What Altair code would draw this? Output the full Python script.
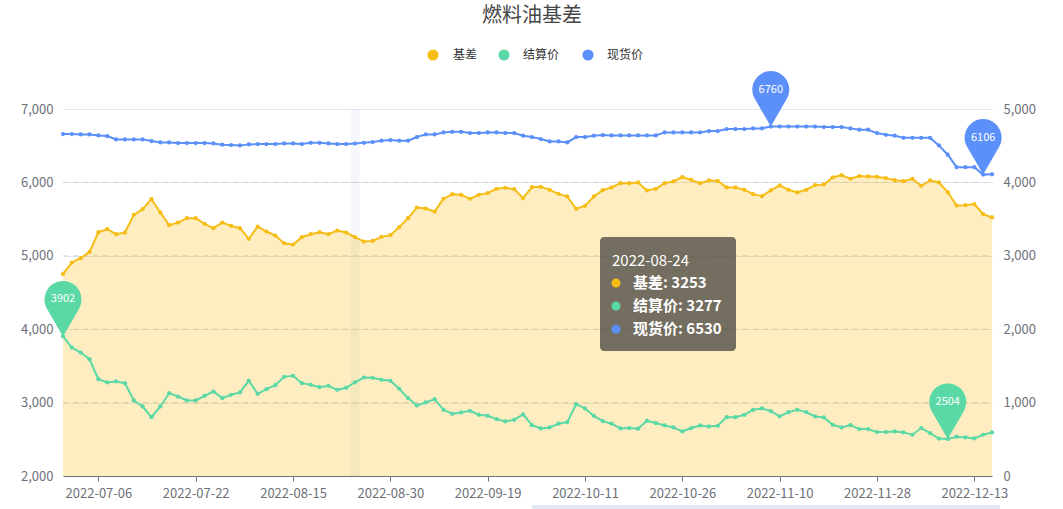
import altair as alt
import pandas as pd

# ---------------- data ----------------
dates = [
    "2022-06-30", "2022-07-01", "2022-07-04", "2022-07-05", "2022-07-06", "2022-07-07", "2022-07-08",
    "2022-07-11", "2022-07-12", "2022-07-14", "2022-07-15", "2022-07-18", "2022-07-19", "2022-07-20",
    "2022-07-21", "2022-07-22", "2022-07-25", "2022-07-27", "2022-07-29", "2022-08-01", "2022-08-03",
    "2022-08-04", "2022-08-05", "2022-08-08", "2022-08-10", "2022-08-12", "2022-08-15", "2022-08-16",
    "2022-08-17", "2022-08-18", "2022-08-19", "2022-08-22", "2022-08-23", "2022-08-24", "2022-08-25",
    "2022-08-26", "2022-08-29", "2022-08-30", "2022-08-31", "2022-09-01", "2022-09-05", "2022-09-06",
    "2022-09-07", "2022-09-08", "2022-09-09", "2022-09-13", "2022-09-15", "2022-09-16", "2022-09-19",
    "2022-09-20", "2022-09-21", "2022-09-22", "2022-09-23", "2022-09-26", "2022-09-27", "2022-09-28",
    "2022-09-29", "2022-09-30", "2022-10-10", "2022-10-11", "2022-10-12", "2022-10-13", "2022-10-14",
    "2022-10-17", "2022-10-18", "2022-10-19", "2022-10-20", "2022-10-21", "2022-10-24", "2022-10-25",
    "2022-10-26", "2022-10-27", "2022-10-28", "2022-10-31", "2022-11-01", "2022-11-02", "2022-11-03",
    "2022-11-04", "2022-11-07", "2022-11-08", "2022-11-09", "2022-11-10", "2022-11-11", "2022-11-14",
    "2022-11-15", "2022-11-17", "2022-11-18", "2022-11-21", "2022-11-22", "2022-11-23", "2022-11-24",
    "2022-11-25", "2022-11-28", "2022-11-29", "2022-11-30", "2022-12-01", "2022-12-02", "2022-12-05",
    "2022-12-06", "2022-12-07", "2022-12-08", "2022-12-09", "2022-12-12", "2022-12-13", "2022-12-14",
    "2022-12-15",
]

basis = [
    2753, 2908, 2967, 3053, 3322, 3362, 3294, 3317, 3558, 3635,
    3772, 3590, 3417, 3453, 3513, 3513, 3435, 3376, 3453, 3408,
    3376, 3231, 3399, 3331, 3276, 3171, 3153, 3253, 3294, 3322,
    3294, 3344, 3317, 3253, 3194, 3203, 3258, 3281, 3390, 3513,
    3658, 3644, 3603, 3776, 3840, 3831, 3776, 3831, 3854, 3913,
    3926, 3908, 3785, 3935, 3940, 3899, 3844, 3808, 3640, 3681,
    3808, 3895, 3931, 3990, 3990, 3999, 3890, 3913, 3990, 4013,
    4072, 4035, 3990, 4026, 4022, 3931, 3931, 3899, 3840, 3813,
    3890, 3958, 3899, 3863, 3899, 3963, 3972, 4067, 4099, 4049,
    4086, 4081, 4076, 4058, 4031, 4017, 4049, 3954, 4026, 3999,
    3867, 3685, 3690, 3704, 3567, 3522,
]

settle = [
    3902, 3750, 3682, 3591, 3319, 3274, 3288, 3265, 3029, 2947,
    2802, 2947, 3129, 3083, 3029, 3029, 3093, 3151, 3061, 3106,
    3138, 3297, 3120, 3183, 3238, 3351, 3365, 3265, 3242, 3210,
    3229, 3174, 3201, 3277, 3342, 3337, 3310, 3297, 3188, 3061,
    2961, 3002, 3047, 2902, 2848, 2866, 2888, 2834, 2820, 2775,
    2743, 2766, 2839, 2693, 2648, 2662, 2712, 2734, 2979, 2920,
    2820, 2748, 2712, 2648, 2653, 2644, 2752, 2721, 2689, 2662,
    2607, 2653, 2689, 2675, 2684, 2802, 2802, 2834, 2902, 2920,
    2884, 2811, 2870, 2902, 2870, 2811, 2798, 2698, 2662, 2693,
    2639, 2639, 2598, 2598, 2607, 2594, 2562, 2653, 2585, 2510,
    2504, 2535, 2526, 2512, 2562, 2594,
]

spot = [
    6659, 6659, 6654, 6654, 6640, 6631, 6586, 6586, 6586, 6586,
    6563, 6545, 6545, 6536, 6536, 6536, 6536, 6531, 6513, 6508,
    6504, 6518, 6522, 6522, 6522, 6531, 6531, 6522, 6540, 6540,
    6531, 6522, 6522, 6530, 6540, 6549, 6568, 6577, 6568, 6568,
    6618, 6654, 6654, 6681, 6690, 6690, 6672, 6672, 6681, 6681,
    6672, 6672, 6636, 6618, 6590, 6558, 6558, 6545, 6618, 6618,
    6636, 6645, 6640, 6640, 6640, 6640, 6640, 6640, 6681, 6681,
    6681, 6681, 6681, 6699, 6699, 6727, 6727, 6727, 6736, 6736,
    6760, 6760, 6760, 6760, 6760, 6760, 6754, 6754, 6754, 6736,
    6718, 6718, 6672, 6649, 6636, 6608, 6608, 6608, 6608, 6504,
    6377, 6208, 6208, 6208, 6106, 6110,
]

label_dates = ["2022-07-06", "2022-07-22", "2022-08-15", "2022-08-30", "2022-09-19",
               "2022-10-11", "2022-10-26", "2022-11-10", "2022-11-28", "2022-12-13"]
left_ticks = [2000, 3000, 4000, 5000, 6000, 7000]
right_ticks = [0, 1000, 2000, 3000, 4000, 5000]
series_names = ["基差", "结算价", "现货价"]
series_colors = ["#F6BD16", "#5AD8A6", "#5B8FF9"]
chart_title = "燃料油基差"
tooltip_date = "2022-08-24"

# ---------------- layout constants ----------------
FONT = "Noto Sans CJK SC"
W, H = 929, 367
AXIS_GRAY = "#6E7079"
YEL, GRN, BLU = series_colors
PIN = "M0,0 L-0.866,-1.5 A1,1 0 1,1 0.866,-1.5 Z"
THOUSANDS = "format(datum.value, ',')"

n = len(dates)
df_basis = pd.DataFrame({"date": dates, "basis": basis})
df_long = pd.DataFrame({
    "date": dates + dates,
    "series": ["结算价"] * n + ["现货价"] * n,
    "value": settle + spot,
})

# max/min pins
pin_rows = []
for name, vals in [("结算价", settle), ("现货价", spot)]:
    imax = max(range(n), key=lambda i: vals[i])
    imin = min(range(n), key=lambda i: vals[i])
    for i in (imax, imin):
        pin_rows.append({"date": dates[i], "series": name, "value": vals[i]})
df_pins = pd.DataFrame(pin_rows)

x_enc = alt.X(
    "date:O",
    scale=alt.Scale(type="point", domain=dates, padding=0),
    axis=alt.Axis(values=label_dates, labelAngle=0, title=None, grid=False,
                  domainColor=AXIS_GRAY, tickColor=AXIS_GRAY, tickSize=5,
                  labelColor=AXIS_GRAY, labelFontSize=13, labelPadding=6,
                  labelFont=FONT),
)

right_scale = alt.Scale(domain=[0, 5000], nice=False, zero=True)
left_scale = alt.Scale(domain=[2000, 7000], nice=False, zero=False)
color_scale = alt.Scale(domain=["结算价", "现货价"], range=[GRN, BLU])

right_axis = alt.Axis(orient="right", values=right_ticks, labelExpr=THOUSANDS, grid=False,
                      domain=False, ticks=False, labelColor=AXIS_GRAY,
                      labelFontSize=13, labelPadding=11, title=None, labelFont=FONT)
left_axis = alt.Axis(orient="left", values=left_ticks, labelExpr=THOUSANDS, grid=True,
                     gridColor="#E0E6F1", domain=False, ticks=False,
                     labelColor=AXIS_GRAY, labelFontSize=13, labelPadding=10,
                     title=None, labelFont=FONT)

# ---- right axis group (basis) ----
area = alt.Chart(df_basis).mark_area(color=YEL, opacity=0.27).encode(
    x=x_enc,
    y=alt.Y("basis:Q", scale=right_scale, axis=right_axis),
)
bline = alt.Chart(df_basis).mark_line(
    color=YEL, strokeWidth=2,
    point=alt.OverlayMarkDef(filled=True, size=18, color=YEL, opacity=1),
).encode(x=x_enc, y=alt.Y("basis:Q", scale=right_scale, axis=right_axis))

# dashed grid on the right-axis ticks (drawn as rules)
df_rgrid = pd.DataFrame({"basis": right_ticks[1:-1]})
rgrid = alt.Chart(df_rgrid).mark_rule(color="#D4D4D4", strokeDash=[5, 5], strokeWidth=1).encode(
    y=alt.Y("basis:Q", scale=right_scale, axis=right_axis),
    x=alt.value(0), x2=alt.value(W),
)
right_group = alt.layer(rgrid, area, bline)

# ---- left axis group (settle, spot) ----
lines = alt.Chart(df_long).mark_line(
    strokeWidth=2,
    point=alt.OverlayMarkDef(filled=True, size=18, opacity=1),
).encode(
    x=x_enc,
    y=alt.Y("value:Q", scale=left_scale, axis=left_axis),
    color=alt.Color("series:N", scale=color_scale, legend=None),
)
pins = alt.Chart(df_pins).mark_point(shape=PIN, size=1369, filled=True, opacity=1, strokeWidth=0).encode(
    x=x_enc,
    y=alt.Y("value:Q", scale=left_scale, axis=left_axis),
    color=alt.Color("series:N", scale=color_scale, legend=None),
)
pin_text = alt.Chart(df_pins).mark_text(color="white", fontSize=11, dy=-37, font=FONT).encode(
    x=x_enc,
    y=alt.Y("value:Q", scale=left_scale, axis=left_axis),
    text=alt.Text("value:Q", format="d"),
)
left_group = alt.layer(lines, pins, pin_text)

# ---- hover band ----
band = alt.Chart(pd.DataFrame({"date": [tooltip_date]})).mark_rule(
    color="#A0AEDC", opacity=0.1, strokeWidth=9
).encode(x=x_enc, y=alt.value(0), y2=alt.value(H))

# ---- decorations: title, legend, tooltip, slider ----
one = pd.DataFrame({"k": [0]})
deco = []
deco.append(alt.Chart(one).mark_text(text=chart_title, fontSize=20, color="#464646", font=FONT,
                                     align="center", baseline="middle").encode(
    x=alt.value(469), y=alt.value(-93)))
leg_cx = [370, 441, 525]
leg_tx = [390, 460, 544]
for name, col, cx, tx in zip(series_names, series_colors, leg_cx, leg_tx):
    deco.append(alt.Chart(one).mark_point(shape="circle", filled=True, size=125, color=col, opacity=1).encode(
        x=alt.value(cx), y=alt.value(-54)))
    deco.append(alt.Chart(one).mark_text(text=name, fontSize=12, color="#333333", font=FONT,
                                         align="left", baseline="middle").encode(
        x=alt.value(tx), y=alt.value(-54)))

# tooltip box
ti = dates.index(tooltip_date)
deco.append(alt.Chart(one).mark_rect(color="#323232", opacity=0.68, cornerRadius=4).encode(
    x=alt.value(537), x2=alt.value(673), y=alt.value(128), y2=alt.value(242)))
deco.append(alt.Chart(one).mark_text(text=tooltip_date, fontSize=15, color="white", font=FONT,
                                     align="left", baseline="middle").encode(
    x=alt.value(549), y=alt.value(152)))
tip_vals = [basis[ti], settle[ti], spot[ti]]
for k, (name, col, v) in enumerate(zip(series_names, series_colors, tip_vals)):
    yy = 174 + 23 * k
    deco.append(alt.Chart(one).mark_point(shape="circle", filled=True, size=80, color=col, opacity=1).encode(
        x=alt.value(553), y=alt.value(yy)))
    deco.append(alt.Chart(one).mark_text(text=f"{name}: {v}", fontSize=15, fontWeight="bold",
                                         color="white", font=FONT, align="left",
                                         baseline="middle").encode(
        x=alt.value(570), y=alt.value(yy)))

# data-zoom slider edge at bottom
deco.append(alt.Chart(one).mark_rect(color="#E3E9F5").encode(
    x=alt.value(469), x2=alt.value(937), y=alt.value(396), y2=alt.value(402)))

chart = alt.layer(band, right_group, left_group, *deco).resolve_scale(y="independent").properties(
    width=W, height=H,
    autosize=alt.AutoSizeParams(type="none"),
    padding={"left": 63, "top": 109, "right": 71, "bottom": 33},
).configure(font=FONT).configure_view(stroke=None)

chart.save("out.html", embed_options={"renderer": "svg", "actions": False})
